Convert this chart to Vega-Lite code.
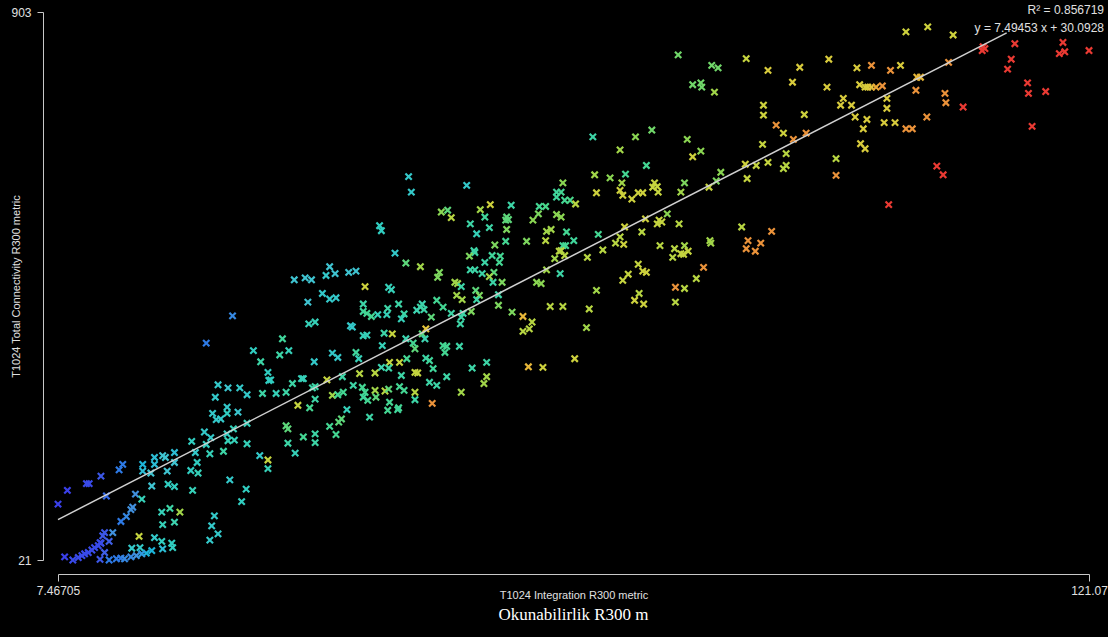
{
  "$schema": "https://vega.github.io/schema/vega-lite/v6.json",
  "width": 1031,
  "height": 548,
  "autosize": {"type": "none"},
  "padding": {"left": 58, "top": 12, "right": 19, "bottom": 77},
  "background": "#000000",
  "config": {"view": {"stroke": null}, "font": "Liberation Sans"},
  "title": {"text": "Okunabilirlik R300 m", "orient": "bottom", "font": "Liberation Serif", "fontSize": 17, "fontWeight": "normal", "color": "#ffffff", "offset": 7},
  "datasets": {
    "pts": [
      {"x":26.7,"y":414,"c":18},{"x":23.8,"y":370,"c":15},{"x":25.1,"y":303,"c":35},{"x":26.2,"y":298,"c":33},{"x":27.5,"y":298,"c":35},
      {"x":28.3,"y":287,"c":35},{"x":24.8,"y":283,"c":35},{"x":26.1,"y":267,"c":35},{"x":24.5,"y":257,"c":35},{"x":26.1,"y":257,"c":38},
      {"x":27.3,"y":259,"c":33},{"x":24.9,"y":247,"c":35},{"x":25.4,"y":248,"c":35},{"x":28.3,"y":241,"c":40},{"x":26.8,"y":232,"c":40},
      {"x":26.1,"y":224,"c":38},{"x":23.6,"y":227,"c":35},{"x":24.3,"y":218,"c":35},{"x":22.2,"y":212,"c":38},{"x":26.2,"y":213,"c":40},
      {"x":26.9,"y":214,"c":40},{"x":28.3,"y":208,"c":40},{"x":23.8,"y":207,"c":38},{"x":22.6,"y":194,"c":35},{"x":24.2,"y":192,"c":40},
      {"x":25.7,"y":196,"c":45},{"x":20.3,"y":194,"c":30},{"x":19.0,"y":189,"c":32},{"x":19.3,"y":186,"c":32},{"x":18.1,"y":186,"c":30},
      {"x":22.8,"y":178,"c":38},{"x":20.3,"y":178,"c":32},{"x":18.1,"y":175,"c":30},{"x":16.8,"y":175,"c":28},{"x":14.6,"y":175,"c":15},
      {"x":14.2,"y":166,"c":15},{"x":16.8,"y":164,"c":30},{"x":17.7,"y":161,"c":32},{"x":19.5,"y":164,"c":32},{"x":22.1,"y":165,"c":38},
      {"x":22.9,"y":161,"c":40},{"x":12.2,"y":156,"c":8},{"x":10.6,"y":144,"c":5},{"x":10.9,"y":144,"c":5},{"x":17.8,"y":140,"c":32},
      {"x":19.6,"y":143,"c":38},{"x":20.3,"y":139,"c":38},{"x":26.4,"y":150,"c":35},{"x":28.2,"y":135,"c":38},{"x":8.5,"y":133,"c":3},
      {"x":12.8,"y":124,"c":12},{"x":22.3,"y":133,"c":40},{"x":16.0,"y":127,"c":20},{"x":16.7,"y":119,"c":40},{"x":7.47,"y":111,"c":3},
      {"x":27.7,"y":115,"c":38},{"x":15.7,"y":106,"c":20},{"x":15.5,"y":102,"c":20},{"x":18.9,"y":98,"c":40},{"x":19.8,"y":104,"c":45},
      {"x":20.9,"y":98,"c":65},{"x":15.0,"y":91,"c":18},{"x":14.4,"y":83,"c":15},{"x":20.3,"y":82,"c":42},{"x":19.0,"y":78,"c":40},
      {"x":24.7,"y":92,"c":35},{"x":24.4,"y":76,"c":35},{"x":25.1,"y":63,"c":35},{"x":24.2,"y":53,"c":35},{"x":12.6,"y":65,"c":8},
      {"x":12.4,"y":60,"c":8},{"x":13.5,"y":65,"c":20},{"x":13.1,"y":51,"c":10},{"x":12.2,"y":48,"c":8},{"x":16.4,"y":59,"c":70},
      {"x":18.1,"y":57,"c":35},{"x":18.9,"y":51,"c":38},{"x":20.0,"y":48,"c":38},{"x":20.1,"y":41,"c":38},{"x":15.6,"y":40,"c":35},
      {"x":16.5,"y":41,"c":35},{"x":19.0,"y":39,"c":30},{"x":17.8,"y":36,"c":28},{"x":17.2,"y":32,"c":28},{"x":11.5,"y":41,"c":5},
      {"x":11.2,"y":37,"c":5},{"x":10.8,"y":33,"c":5},{"x":10.4,"y":31,"c":5},{"x":10.1,"y":28,"c":5},{"x":9.7,"y":25,"c":5},
      {"x":11.9,"y":44,"c":5},{"x":12.1,"y":49,"c":5},{"x":12.6,"y":33,"c":10},{"x":8.2,"y":26,"c":3},{"x":9.1,"y":21,"c":5},
      {"x":12.1,"y":22,"c":8},{"x":13.1,"y":21,"c":15},{"x":13.9,"y":23,"c":15},{"x":14.4,"y":24,"c":15},{"x":14.8,"y":23,"c":18},
      {"x":15.5,"y":26,"c":18},{"x":16.1,"y":28,"c":20},{"x":16.7,"y":31,"c":22},

      {"x":46.1,"y":638,"c":35},{"x":46.4,"y":613,"c":35},{"x":49.7,"y":581,"c":62},{"x":50.4,"y":584,"c":55},{"x":42.9,"y":559,"c":38},
      {"x":43.1,"y":551,"c":38},{"x":44.6,"y":515,"c":35},{"x":45.8,"y":499,"c":55},{"x":47.4,"y":493,"c":65},{"x":49.5,"y":484,"c":60},
      {"x":49.3,"y":476,"c":60},{"x":37.4,"y":493,"c":32},{"x":37.0,"y":479,"c":35},{"x":38.0,"y":482,"c":32},{"x":39.5,"y":484,"c":32},
      {"x":40.3,"y":486,"c":32},{"x":33.5,"y":472,"c":32},{"x":34.7,"y":475,"c":32},{"x":35.4,"y":472,"c":32},{"x":41.3,"y":461,"c":72},
      {"x":43.9,"y":460,"c":40},{"x":44.2,"y":456,"c":40},{"x":36.6,"y":450,"c":35},{"x":37.4,"y":441,"c":35},{"x":38.1,"y":443,"c":35},
      {"x":35.0,"y":436,"c":32},{"x":41.1,"y":433,"c":45},{"x":41.1,"y":421,"c":48},{"x":41.5,"y":418,"c":50},{"x":42.0,"y":413,"c":50},
      {"x":42.7,"y":416,"c":40},{"x":43.8,"y":426,"c":45},{"x":43.7,"y":416,"c":40},{"x":45.0,"y":433,"c":45},{"x":45.6,"y":417,"c":45},
      {"x":45.3,"y":409,"c":40},{"x":47.6,"y":433,"c":42},{"x":47.4,"y":428,"c":45},{"x":47.0,"y":423,"c":42},{"x":47.8,"y":424,"c":45},
      {"x":48.6,"y":412,"c":55},{"x":49.2,"y":439,"c":50},{"x":49.9,"y":428,"c":50},{"x":35.8,"y":404,"c":40},{"x":35.1,"y":401,"c":40},
      {"x":39.7,"y":398,"c":35},{"x":39.9,"y":396,"c":35},{"x":41.1,"y":382,"c":40},{"x":41.5,"y":383,"c":40},{"x":43.4,"y":386,"c":45},
      {"x":44.3,"y":385,"c":70},{"x":45.8,"y":377,"c":42},{"x":46.6,"y":370,"c":50},{"x":46.8,"y":361,"c":55},{"x":47.6,"y":385,"c":55},
      {"x":47.9,"y":377,"c":42},{"x":48.0,"y":393,"c":78},{"x":49.9,"y":366,"c":50},{"x":50.3,"y":365,"c":50},{"x":32.2,"y":377,"c":48},
      {"x":29.0,"y":358,"c":38},{"x":32.9,"y":358,"c":40},{"x":31.9,"y":351,"c":45},{"x":37.7,"y":354,"c":35},{"x":38.3,"y":347,"c":35},
      {"x":40.3,"y":355,"c":48},{"x":40.6,"y":345,"c":40},{"x":43.2,"y":366,"c":40},{"x":43.1,"y":331,"c":42},{"x":44.0,"y":339,"c":70},
      {"x":45.1,"y":339,"c":70},{"x":45.9,"y":345,"c":50},{"x":48.0,"y":346,"c":45},{"x":48.4,"y":342,"c":48},{"x":50.1,"y":355,"c":50},
      {"x":29.8,"y":340,"c":45},{"x":35.7,"y":340,"c":35},{"x":30.6,"y":323,"c":38},{"x":30.7,"y":310,"c":38},{"x":30.9,"y":311,"c":38},
      {"x":34.3,"y":313,"c":40},{"x":34.5,"y":313,"c":40},{"x":37.1,"y":311,"c":70},{"x":38.8,"y":316,"c":45},{"x":40.7,"y":321,"c":68},
      {"x":42.4,"y":322,"c":68},{"x":43.9,"y":330,"c":45},{"x":45.3,"y":318,"c":45},{"x":46.8,"y":323,"c":70},{"x":47.1,"y":322,"c":70},
      {"x":48.8,"y":329,"c":48},{"x":48.4,"y":307,"c":45},{"x":50.3,"y":316,"c":45},{"x":33.3,"y":305,"c":45},{"x":35.8,"y":300,"c":45},
      {"x":35.5,"y":298,"c":45},{"x":30.0,"y":289,"c":45},{"x":31.5,"y":289,"c":40},{"x":32.6,"y":291,"c":45},{"x":35.8,"y":280,"c":45},
      {"x":33.9,"y":270,"c":70},{"x":35.2,"y":266,"c":50},{"x":37.7,"y":286,"c":65},{"x":38.3,"y":287,"c":50},{"x":38.9,"y":291,"c":50},
      {"x":40.0,"y":302,"c":45},{"x":41.0,"y":299,"c":50},{"x":41.3,"y":291,"c":50},{"x":41.6,"y":278,"c":50},{"x":41.1,"y":283,"c":48},
      {"x":42.4,"y":294,"c":65},{"x":42.5,"y":283,"c":55},{"x":43.5,"y":293,"c":68},{"x":43.9,"y":296,"c":55},{"x":45.1,"y":300,"c":50},
      {"x":45.6,"y":294,"c":50},{"x":46.8,"y":291,"c":68},{"x":46.8,"y":279,"c":45},{"x":48.7,"y":273,"c":85},{"x":49.2,"y":302,"c":45},
      {"x":44.0,"y":275,"c":50},{"x":45.0,"y":266,"c":50},{"x":44.9,"y":263,"c":48},{"x":43.8,"y":262,"c":50},{"x":39.3,"y":263,"c":40},
      {"x":38.7,"y":248,"c":55},{"x":38.4,"y":243,"c":55},{"x":41.8,"y":251,"c":45},{"x":37.4,"y":236,"c":50},{"x":38.1,"y":223,"c":50},
      {"x":32.6,"y":237,"c":55},{"x":32.8,"y":232,"c":55},{"x":34.5,"y":219,"c":50},{"x":35.8,"y":224,"c":45},{"x":35.8,"y":210,"c":45},
      {"x":32.8,"y":209,"c":45},{"x":33.6,"y":193,"c":40},{"x":29.7,"y":189,"c":35},{"x":30.6,"y":182,"c":70},{"x":30.6,"y":168,"c":40},

      {"x":66.4,"y":702,"c":45},{"x":71.1,"y":702,"c":62},{"x":69.4,"y":681,"c":65},{"x":72.3,"y":656,"c":50},{"x":52.5,"y":624,"c":35},
      {"x":63.1,"y":628,"c":62},{"x":66.6,"y":641,"c":65},{"x":68.3,"y":636,"c":62},{"x":70.0,"y":642,"c":50},{"x":69.6,"y":628,"c":65},
      {"x":69.4,"y":616,"c":72},{"x":69.7,"y":608,"c":72},{"x":66.8,"y":612,"c":72},{"x":70.7,"y":602,"c":72},{"x":71.4,"y":612,"c":72},
      {"x":71.9,"y":612,"c":72},{"x":62.4,"y":613,"c":48},{"x":62.4,"y":605,"c":48},{"x":62.9,"y":613,"c":50},{"x":63.3,"y":600,"c":50},
      {"x":63.9,"y":600,"c":52},{"x":64.5,"y":594,"c":68},{"x":57.4,"y":592,"c":45},{"x":60.5,"y":590,"c":50},{"x":61.2,"y":590,"c":52},
      {"x":55.1,"y":593,"c":72},{"x":54.0,"y":585,"c":65},{"x":50.8,"y":572,"c":68},{"x":54.5,"y":573,"c":48},{"x":56.9,"y":573,"c":55},
      {"x":57.1,"y":569,"c":55},{"x":56.8,"y":568,"c":55},{"x":60.4,"y":578,"c":60},{"x":59.8,"y":568,"c":62},{"x":62.4,"y":577,"c":62},
      {"x":62.9,"y":573,"c":62},{"x":52.9,"y":562,"c":45},{"x":55.0,"y":556,"c":45},{"x":56.9,"y":553,"c":60},{"x":61.3,"y":550,"c":65},
      {"x":61.8,"y":553,"c":65},{"x":63.5,"y":549,"c":50},{"x":53.6,"y":546,"c":40},{"x":67.0,"y":545,"c":50},{"x":69.9,"y":557,"c":72},
      {"x":72.2,"y":570,"c":72},{"x":61.2,"y":535,"c":68},{"x":59.1,"y":534,"c":60},{"x":56.8,"y":534,"c":50},{"x":55.6,"y":528,"c":60},
      {"x":64.3,"y":535,"c":48},{"x":63.1,"y":527,"c":50},{"x":63.4,"y":527,"c":50},{"x":69.4,"y":541,"c":68},{"x":68.9,"y":531,"c":68},
      {"x":69.8,"y":529,"c":72},{"x":71.8,"y":549,"c":68},{"x":67.5,"y":520,"c":68},{"x":62.9,"y":519,"c":68},{"x":62.7,"y":518,"c":68},
      {"x":63.3,"y":511,"c":68},{"x":62.2,"y":506,"c":65},{"x":65.8,"y":508,"c":68},{"x":53.3,"y":519,"c":45},{"x":53.4,"y":516,"c":45},
      {"x":52.8,"y":510,"c":60},{"x":55.3,"y":511,"c":48},{"x":56.2,"y":510,"c":50},{"x":56.1,"y":500,"c":50},{"x":54.5,"y":500,"c":45},
      {"x":52.9,"y":488,"c":45},{"x":53.4,"y":488,"c":45},{"x":54.2,"y":482,"c":45},{"x":55.5,"y":484,"c":55},{"x":55.0,"y":477,"c":65},
      {"x":55.4,"y":468,"c":45},{"x":56.4,"y":468,"c":60},{"x":61.3,"y":488,"c":65},{"x":62.8,"y":482,"c":45},{"x":71.4,"y":497,"c":70},
      {"x":71.9,"y":486,"c":72},{"x":72.3,"y":484,"c":72},{"x":70.3,"y":481,"c":70},{"x":69.7,"y":471,"c":70},{"x":60.2,"y":468,"c":62},
      {"x":60.7,"y":466,"c":62},{"x":51.2,"y":468,"c":65},{"x":51.5,"y":466,"c":65},{"x":51.9,"y":461,"c":45},{"x":51.4,"y":447,"c":65},
      {"x":52.0,"y":440,"c":65},{"x":53.5,"y":455,"c":55},{"x":53.9,"y":447,"c":60},{"x":53.6,"y":440,"c":45},{"x":56.0,"y":448,"c":45},
      {"x":66.8,"y":455,"c":65},{"x":71.5,"y":450,"c":68},{"x":71.0,"y":439,"c":72},{"x":72.0,"y":433,"c":72},{"x":53.0,"y":421,"c":60},
      {"x":52.1,"y":418,"c":45},{"x":51.9,"y":412,"c":45},{"x":50.8,"y":418,"c":45},{"x":51.8,"y":401,"c":45},{"x":56.0,"y":431,"c":60},
      {"x":57.5,"y":420,"c":60},{"x":58.7,"y":413,"c":80},{"x":59.7,"y":404,"c":68},{"x":59.4,"y":393,"c":68},{"x":58.7,"y":389,"c":68},
      {"x":61.7,"y":429,"c":68},{"x":63.1,"y":429,"c":68},{"x":66.0,"y":425,"c":68},{"x":65.7,"y":395,"c":65},{"x":51.7,"y":365,"c":45},
      {"x":54.7,"y":339,"c":45},{"x":53.1,"y":330,"c":45},{"x":54.7,"y":316,"c":65},{"x":54.4,"y":305,"c":65},{"x":51.9,"y":291,"c":65},
      {"x":59.3,"y":332,"c":80},{"x":60.9,"y":331,"c":72},{"x":64.4,"y":345,"c":72},

      {"x":75.8,"y":834,"c":58},{"x":79.5,"y":817,"c":58},{"x":80.2,"y":813,"c":58},{"x":83.3,"y":828,"c":70},{"x":85.7,"y":809,"c":75},
      {"x":89.2,"y":814,"c":75},{"x":92.4,"y":827,"c":75},{"x":88.4,"y":790,"c":75},{"x":77.4,"y":786,"c":58},{"x":78.3,"y":789,"c":58},
      {"x":78.4,"y":782,"c":58},{"x":79.8,"y":774,"c":65},{"x":92.2,"y":782,"c":75},{"x":94.0,"y":764,"c":75},{"x":93.7,"y":753,"c":75},
      {"x":85.2,"y":753,"c":72},{"x":85.2,"y":737,"c":72},{"x":89.7,"y":738,"c":72},{"x":86.6,"y":721,"c":85},{"x":87.4,"y":708,"c":72},
      {"x":88.5,"y":698,"c":85},{"x":89.9,"y":708,"c":85},{"x":72.9,"y":713,"c":58},{"x":76.8,"y":698,"c":62},{"x":85.1,"y":690,"c":70},
      {"x":78.3,"y":679,"c":62},{"x":77.4,"y":670,"c":72},{"x":87.7,"y":675,"c":68},{"x":85.7,"y":661,"c":70},{"x":84.4,"y":656,"c":70},
      {"x":83.2,"y":658,"c":72},{"x":87.7,"y":656,"c":68},{"x":87.4,"y":651,"c":68},{"x":80.5,"y":645,"c":62},{"x":93.2,"y":667,"c":68},
      {"x":93.2,"y":640,"c":85},{"x":73.2,"y":628,"c":70},{"x":73.5,"y":622,"c":70},{"x":73.0,"y":621,"c":70},{"x":73.6,"y":613,"c":70},
      {"x":76.5,"y":628,"c":60},{"x":80.0,"y":631,"c":60},{"x":79.2,"y":621,"c":70},{"x":83.4,"y":635,"c":70},{"x":76.1,"y":613,"c":65},
      {"x":74.6,"y":578,"c":62},{"x":73.7,"y":568,"c":70},{"x":73.5,"y":562,"c":70},{"x":74.0,"y":565,"c":70},{"x":75.9,"y":562,"c":68},
      {"x":82.8,"y":557,"c":68},{"x":86.1,"y":550,"c":85},{"x":83.5,"y":535,"c":85},{"x":83.3,"y":522,"c":85},{"x":84.9,"y":531,"c":85},
      {"x":84.3,"y":518,"c":85},{"x":79.3,"y":535,"c":65},{"x":79.4,"y":531,"c":65},{"x":73.8,"y":527,"c":68},{"x":75.4,"y":522,"c":68},
      {"x":75.2,"y":508,"c":68},{"x":76.5,"y":527,"c":65},{"x":76.1,"y":514,"c":70},{"x":76.4,"y":513,"c":70},{"x":76.9,"y":518,"c":70},
      {"x":78.6,"y":492,"c":85},{"x":77.8,"y":474,"c":68},{"x":75.5,"y":460,"c":85},{"x":76.5,"y":458,"c":68},{"x":75.5,"y":436,"c":68},

      {"x":100.9,"y":871,"c":72},{"x":103.3,"y":879,"c":72},{"x":106.1,"y":866,"c":72},{"x":109.4,"y":847,"c":100},{"x":109.3,"y":841,"c":100},
      {"x":109.6,"y":844,"c":100},{"x":112.9,"y":852,"c":100},{"x":118.2,"y":854,"c":100},{"x":117.8,"y":836,"c":100},{"x":118.4,"y":839,"c":100},
      {"x":121.07,"y":841,"c":100},{"x":112.5,"y":827,"c":100},{"x":112.1,"y":811,"c":100},{"x":95.5,"y":813,"c":75},{"x":97.1,"y":817,"c":85},
      {"x":99.2,"y":809,"c":85},{"x":100.3,"y":817,"c":75},{"x":105.6,"y":822,"c":85},{"x":95.8,"y":786,"c":75},{"x":96.4,"y":782,"c":75},
      {"x":96.7,"y":782,"c":75},{"x":97.1,"y":782,"c":78},{"x":97.6,"y":782,"c":82},{"x":98.3,"y":784,"c":85},{"x":102.1,"y":798,"c":80},
      {"x":102.5,"y":798,"c":80},{"x":102.0,"y":777,"c":85},{"x":105.2,"y":772,"c":85},{"x":105.3,"y":757,"c":85},{"x":107.2,"y":750,"c":100},
      {"x":114.3,"y":789,"c":100},{"x":114.4,"y":772,"c":100},{"x":116.3,"y":775,"c":100},{"x":94.9,"y":753,"c":75},{"x":98.8,"y":764,"c":75},
      {"x":98.8,"y":748,"c":75},{"x":95.3,"y":734,"c":75},{"x":96.6,"y":730,"c":75},{"x":98.5,"y":725,"c":75},{"x":99.7,"y":725,"c":75},
      {"x":103.2,"y":734,"c":85},{"x":100.9,"y":715,"c":85},{"x":101.6,"y":715,"c":85},{"x":114.8,"y":719,"c":100},{"x":96.2,"y":715,"c":75},
      {"x":95.9,"y":691,"c":75},{"x":96.4,"y":683,"c":75},{"x":104.3,"y":655,"c":100},{"x":105.0,"y":641,"c":100},{"x":99.0,"y":593,"c":100}
    ],
    "fit": [
      {"x": 7.46705, "y": 86.06},
      {"x": 112, "y": 869.5}
    ],
    "notes": [
      {"x": 121.07, "y": 906, "t": "R² = 0.856719"},
      {"x": 121.07, "y": 878, "t": "y = 7.49453 x + 30.0928"}
    ]
  },
  "layer": [
    {
      "data": {"name": "pts"},
      "mark": {"type": "point", "shape": "M-1,-1L1,1M-1,1L1,-1", "filled": false, "strokeWidth": 2.2, "size": 40, "opacity": 1},
      "encoding": {
        "x": {
          "field": "x", "type": "quantitative",
          "scale": {"domain": [7.46705, 121.07], "nice": false, "zero": false},
          "axis": {
            "title": "T1024 Integration R300 metric", "values": [7.46705, 121.07], "labelExpr": "'' + datum.value",
            "offset": 14, "grid": false, "domainColor": "#c8c8c8", "tickColor": "#c8c8c8", "tickSize": 7,
            "labelColor": "#e0e0e0", "labelFontSize": 12, "labelPadding": 4, "labelFlush": false, "labelOverlap": false,
            "titleColor": "#e0e0e0", "titleFontSize": 11, "titleFontWeight": "normal", "titleY": 21, "titleBaseline": "middle"
          }
        },
        "y": {
          "field": "y", "type": "quantitative",
          "scale": {"domain": [21, 903], "nice": false, "zero": false},
          "axis": {
            "title": "T1024 Total Connectivity R300 metric", "values": [21, 903], "labelExpr": "'' + datum.value",
            "offset": 15, "grid": false, "domainColor": "#c8c8c8", "tickColor": "#c8c8c8", "tickSize": 6,
            "labelColor": "#e0e0e0", "labelFontSize": 12, "labelPadding": 6, "labelFlush": false, "labelOverlap": false,
            "titleColor": "#e0e0e0", "titleFontSize": 11, "titleFontWeight": "normal", "titleX": -27, "titleBaseline": "middle"
          }
        },
        "color": {
          "field": "c", "type": "quantitative", "legend": null,
          "scale": {
            "domain": [0, 10, 20, 32, 42, 52, 62, 70, 78, 86, 100],
            "range": ["#3d2fe8", "#3f5fe6", "#4190dd", "#3fc3d0", "#3ed3b0", "#4ad68a", "#8ad552", "#c5d43f", "#e3c63d", "#ea8a3c", "#ea3a33"]
          }
        }
      }
    },
    {
      "data": {"name": "fit"},
      "mark": {"type": "line", "color": "#d0d0d0", "strokeWidth": 1.5},
      "encoding": {
        "x": {"field": "x", "type": "quantitative"},
        "y": {"field": "y", "type": "quantitative"}
      }
    },
    {
      "data": {"name": "notes"},
      "mark": {"type": "text", "align": "right", "baseline": "middle", "dx": 15, "color": "#e0e0e0", "fontSize": 12},
      "encoding": {
        "x": {"field": "x", "type": "quantitative"},
        "y": {"field": "y", "type": "quantitative"},
        "text": {"field": "t"}
      }
    }
  ]
}
